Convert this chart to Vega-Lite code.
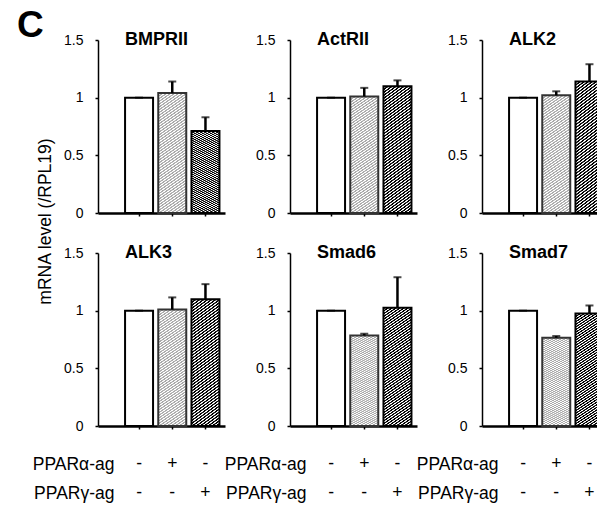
{
"$schema": "https://vega.github.io/schema/vega-lite/v6.json",
"autosize": {"type": "none"},
"padding": {"left": 98, "top": 40, "right": 499, "bottom": 466},
"background": "white",
"title": {"text": "C", "fontSize": 37, "fontWeight": "bold", "anchor": "start", "frame": "group", "dx": -81, "dy": 14, "offset": 0},
"data": {"values": [
 {"gene": "BMPRII", "grp": "c", "mean": 1.0, "upper": 1.0},
 {"gene": "BMPRII", "grp": "a", "mean": 1.04, "upper": 1.14},
 {"gene": "BMPRII", "grp": "g", "mean": 0.71, "upper": 0.83},
 {"gene": "ActRII", "grp": "c", "mean": 1.0, "upper": 1.0},
 {"gene": "ActRII", "grp": "a", "mean": 1.01, "upper": 1.085},
 {"gene": "ActRII", "grp": "g", "mean": 1.1, "upper": 1.15},
 {"gene": "ALK2", "grp": "c", "mean": 1.0, "upper": 1.0},
 {"gene": "ALK2", "grp": "a", "mean": 1.02, "upper": 1.055},
 {"gene": "ALK2", "grp": "g", "mean": 1.14, "upper": 1.29},
 {"gene": "ALK3", "grp": "c", "mean": 1.0, "upper": 1.0},
 {"gene": "ALK3", "grp": "a", "mean": 1.01, "upper": 1.115},
 {"gene": "ALK3", "grp": "g", "mean": 1.1, "upper": 1.23},
 {"gene": "Smad6", "grp": "c", "mean": 1.0, "upper": 1.0},
 {"gene": "Smad6", "grp": "a", "mean": 0.785, "upper": 0.8},
 {"gene": "Smad6", "grp": "g", "mean": 1.025, "upper": 1.29},
 {"gene": "Smad7", "grp": "c", "mean": 1.0, "upper": 1.0},
 {"gene": "Smad7", "grp": "a", "mean": 0.765, "upper": 0.78},
 {"gene": "Smad7", "grp": "g", "mean": 0.975, "upper": 1.045}
]},
"columns": 3,
"spacing": {"row": 40, "column": 65},
"bounds": "flush",
"concat": [
 {"width": 127, "height": 173, "title": "BMPRII",
  "transform": [{"filter": "datum.gene=='BMPRII'"}],
  "encoding": {
   "x": {"field": "grp", "type": "nominal", "scale": {"domain": ["c","a","g"], "paddingInner": 0.157, "paddingOuter": 0.491, "align": 0.83}, "axis": {"labels": false, "title": null}}},
  "layer": [
   {"transform": [{"filter": "datum.grp=='c'"}], "mark": {"type": "bar", "fill": "#fff", "stroke": "#000", "strokeWidth": 2}, "encoding": {"y": {"field": "mean", "type": "quantitative", "scale": {"domain": [0, 1.5], "nice": false}, "axis": {"title": "mRNA level (/RPL19)", "titleX": -53, "titleY": 181, "titleAlign": "center", "titleBaseline": "middle", "titleAngle": -90, "values": [0,0.25,0.5,0.75,1,1.25,1.5], "labelExpr": "(datum.value*2)%1==0 ? toString(datum.value) : ''"}}}},
   {"transform": [{"filter": "datum.grp=='a'"}], "mark": {"type": "bar", "style": "hl"}, "encoding": {"y": {"field": "mean", "type": "quantitative"}}},
   {"transform": [{"filter": "datum.grp=='g'"}], "mark": {"type": "bar", "style": "hd"}, "encoding": {"y": {"field": "mean", "type": "quantitative"}}},
   {"mark": {"type": "rule", "strokeWidth": 2.5, "color": "#000"}, "encoding": {"y": {"field": "mean", "type": "quantitative"}, "y2": {"field": "upper"}}},
   {"mark": {"type": "tick", "thickness": 2, "size": 8, "color": "#000"}, "encoding": {"y": {"field": "upper", "type": "quantitative"}}}
  ]},
 {"width": 127, "height": 173, "title": "ActRII",
  "transform": [{"filter": "datum.gene=='ActRII'"}],
  "encoding": {
   "x": {"field": "grp", "type": "nominal", "scale": {"domain": ["c","a","g"], "paddingInner": 0.157, "paddingOuter": 0.491, "align": 0.83}, "axis": {"labels": false, "title": null}}},
  "layer": [
   {"transform": [{"filter": "datum.grp=='c'"}], "mark": {"type": "bar", "fill": "#fff", "stroke": "#000", "strokeWidth": 2}, "encoding": {"y": {"field": "mean", "type": "quantitative", "scale": {"domain": [0, 1.5], "nice": false}, "axis": {"title": null, "values": [0,0.25,0.5,0.75,1,1.25,1.5], "labelExpr": "(datum.value*2)%1==0 ? toString(datum.value) : ''"}}}},
   {"transform": [{"filter": "datum.grp=='a'"}], "mark": {"type": "bar", "style": "hl"}, "encoding": {"y": {"field": "mean", "type": "quantitative"}}},
   {"transform": [{"filter": "datum.grp=='g'"}], "mark": {"type": "bar", "style": "hd"}, "encoding": {"y": {"field": "mean", "type": "quantitative"}}},
   {"mark": {"type": "rule", "strokeWidth": 2.5, "color": "#000"}, "encoding": {"y": {"field": "mean", "type": "quantitative"}, "y2": {"field": "upper"}}},
   {"mark": {"type": "tick", "thickness": 2, "size": 8, "color": "#000"}, "encoding": {"y": {"field": "upper", "type": "quantitative"}}}
  ]},
 {"width": 127, "height": 173, "title": "ALK2",
  "transform": [{"filter": "datum.gene=='ALK2'"}],
  "encoding": {
   "x": {"field": "grp", "type": "nominal", "scale": {"domain": ["c","a","g"], "paddingInner": 0.157, "paddingOuter": 0.491, "align": 0.83}, "axis": {"labels": false, "title": null}}},
  "layer": [
   {"transform": [{"filter": "datum.grp=='c'"}], "mark": {"type": "bar", "fill": "#fff", "stroke": "#000", "strokeWidth": 2}, "encoding": {"y": {"field": "mean", "type": "quantitative", "scale": {"domain": [0, 1.5], "nice": false}, "axis": {"title": null, "values": [0,0.25,0.5,0.75,1,1.25,1.5], "labelExpr": "(datum.value*2)%1==0 ? toString(datum.value) : ''"}}}},
   {"transform": [{"filter": "datum.grp=='a'"}], "mark": {"type": "bar", "style": "hl"}, "encoding": {"y": {"field": "mean", "type": "quantitative"}}},
   {"transform": [{"filter": "datum.grp=='g'"}], "mark": {"type": "bar", "style": "hd"}, "encoding": {"y": {"field": "mean", "type": "quantitative"}}},
   {"mark": {"type": "rule", "strokeWidth": 2.5, "color": "#000"}, "encoding": {"y": {"field": "mean", "type": "quantitative"}, "y2": {"field": "upper"}}},
   {"mark": {"type": "tick", "thickness": 2, "size": 8, "color": "#000"}, "encoding": {"y": {"field": "upper", "type": "quantitative"}}}
  ]},
 {"width": 127, "height": 173, "title": "ALK3",
  "transform": [{"filter": "datum.gene=='ALK3'"}],
  "encoding": {
   "x": {"field": "grp", "type": "nominal", "scale": {"domain": ["c","a","g"], "paddingInner": 0.157, "paddingOuter": 0.491, "align": 0.83}, "axis": {"labelExpr": "datum.value=='c' ? ['-','-'] : datum.value=='a' ? ['+','-'] : ['-','+']", "title": ["PPARα-ag", "PPARγ-ag"], "titleAlign": "right", "titleAngle": 0, "titleX": 16, "titleY": 29.5, "titleBaseline": "top"}}},
  "layer": [
   {"transform": [{"filter": "datum.grp=='c'"}], "mark": {"type": "bar", "fill": "#fff", "stroke": "#000", "strokeWidth": 2}, "encoding": {"y": {"field": "mean", "type": "quantitative", "scale": {"domain": [0, 1.5], "nice": false}, "axis": {"title": null, "values": [0,0.25,0.5,0.75,1,1.25,1.5], "labelExpr": "(datum.value*2)%1==0 ? toString(datum.value) : ''"}}}},
   {"transform": [{"filter": "datum.grp=='a'"}], "mark": {"type": "bar", "style": "hl"}, "encoding": {"y": {"field": "mean", "type": "quantitative"}}},
   {"transform": [{"filter": "datum.grp=='g'"}], "mark": {"type": "bar", "style": "hd"}, "encoding": {"y": {"field": "mean", "type": "quantitative"}}},
   {"mark": {"type": "rule", "strokeWidth": 2.5, "color": "#000"}, "encoding": {"y": {"field": "mean", "type": "quantitative"}, "y2": {"field": "upper"}}},
   {"mark": {"type": "tick", "thickness": 2, "size": 8, "color": "#000"}, "encoding": {"y": {"field": "upper", "type": "quantitative"}}}
  ]},
 {"width": 127, "height": 173, "title": "Smad6",
  "transform": [{"filter": "datum.gene=='Smad6'"}],
  "encoding": {
   "x": {"field": "grp", "type": "nominal", "scale": {"domain": ["c","a","g"], "paddingInner": 0.157, "paddingOuter": 0.491, "align": 0.83}, "axis": {"labelExpr": "datum.value=='c' ? ['-','-'] : datum.value=='a' ? ['+','-'] : ['-','+']", "title": ["PPARα-ag", "PPARγ-ag"], "titleAlign": "right", "titleAngle": 0, "titleX": 16, "titleY": 29.5, "titleBaseline": "top"}}},
  "layer": [
   {"transform": [{"filter": "datum.grp=='c'"}], "mark": {"type": "bar", "fill": "#fff", "stroke": "#000", "strokeWidth": 2}, "encoding": {"y": {"field": "mean", "type": "quantitative", "scale": {"domain": [0, 1.5], "nice": false}, "axis": {"title": null, "values": [0,0.25,0.5,0.75,1,1.25,1.5], "labelExpr": "(datum.value*2)%1==0 ? toString(datum.value) : ''"}}}},
   {"transform": [{"filter": "datum.grp=='a'"}], "mark": {"type": "bar", "style": "hl"}, "encoding": {"y": {"field": "mean", "type": "quantitative"}}},
   {"transform": [{"filter": "datum.grp=='g'"}], "mark": {"type": "bar", "style": "hd"}, "encoding": {"y": {"field": "mean", "type": "quantitative"}}},
   {"mark": {"type": "rule", "strokeWidth": 2.5, "color": "#000"}, "encoding": {"y": {"field": "mean", "type": "quantitative"}, "y2": {"field": "upper"}}},
   {"mark": {"type": "tick", "thickness": 2, "size": 8, "color": "#000"}, "encoding": {"y": {"field": "upper", "type": "quantitative"}}}
  ]},
 {"width": 127, "height": 173, "title": "Smad7",
  "transform": [{"filter": "datum.gene=='Smad7'"}],
  "encoding": {
   "x": {"field": "grp", "type": "nominal", "scale": {"domain": ["c","a","g"], "paddingInner": 0.157, "paddingOuter": 0.491, "align": 0.83}, "axis": {"labelExpr": "datum.value=='c' ? ['-','-'] : datum.value=='a' ? ['+','-'] : ['-','+']", "title": ["PPARα-ag", "PPARγ-ag"], "titleAlign": "right", "titleAngle": 0, "titleX": 16, "titleY": 29.5, "titleBaseline": "top"}}},
  "layer": [
   {"transform": [{"filter": "datum.grp=='c'"}], "mark": {"type": "bar", "fill": "#fff", "stroke": "#000", "strokeWidth": 2}, "encoding": {"y": {"field": "mean", "type": "quantitative", "scale": {"domain": [0, 1.5], "nice": false}, "axis": {"title": null, "values": [0,0.25,0.5,0.75,1,1.25,1.5], "labelExpr": "(datum.value*2)%1==0 ? toString(datum.value) : ''"}}}},
   {"transform": [{"filter": "datum.grp=='a'"}], "mark": {"type": "bar", "style": "hl"}, "encoding": {"y": {"field": "mean", "type": "quantitative"}}},
   {"transform": [{"filter": "datum.grp=='g'"}], "mark": {"type": "bar", "style": "hd"}, "encoding": {"y": {"field": "mean", "type": "quantitative"}}},
   {"mark": {"type": "rule", "strokeWidth": 2.5, "color": "#000"}, "encoding": {"y": {"field": "mean", "type": "quantitative"}, "y2": {"field": "upper"}}},
   {"mark": {"type": "tick", "thickness": 2, "size": 8, "color": "#000"}, "encoding": {"y": {"field": "upper", "type": "quantitative"}}}
  ]}
],
"config": {
 "font": "Liberation Sans",
 "view": {"stroke": null},
 "title": {"fontSize": 18, "fontWeight": "bold", "anchor": "start", "frame": "group", "color": "#000", "offset": 0, "dx": 27, "dy": 20},
 "axis": {"grid": false, "domainColor": "#000", "tickColor": "#000", "labelColor": "#000", "titleColor": "#000", "titleFontWeight": "normal", "titleFontSize": 17.5},
 "axisY": {"domainWidth": 1.5, "tickWidth": 1.5, "tickSize": 3, "labelPadding": 12, "labelFontSize": 14},
 "axisX": {"domainWidth": 2.5, "tickWidth": 1.5, "tickSize": 3, "labelFontSize": 17.5, "labelAngle": 0, "labelPadding": 25, "labelBaseline": "top", "labelLineHeight": 29, "titleLineHeight": 29},
 "style": {
  "hd": {"stroke": "#000", "strokeWidth": 2, "color": {"gradient": "linear", "x1": 0, "y1": 0, "x2": 0.1844, "y2": 1.1328, "stops": [
{"offset":0,"color":"#000"},{"offset":0.008,"color":"#000"},{"offset":0.011,"color":"#fff"},{"offset":0.017,"color":"#fff"},
{"offset":0.02,"color":"#000"},{"offset":0.028,"color":"#000"},{"offset":0.031,"color":"#fff"},{"offset":0.037,"color":"#fff"},
{"offset":0.04,"color":"#000"},{"offset":0.048,"color":"#000"},{"offset":0.051,"color":"#fff"},{"offset":0.057,"color":"#fff"},
{"offset":0.06,"color":"#000"},{"offset":0.068,"color":"#000"},{"offset":0.071,"color":"#fff"},{"offset":0.077,"color":"#fff"},
{"offset":0.08,"color":"#000"},{"offset":0.088,"color":"#000"},{"offset":0.091,"color":"#fff"},{"offset":0.097,"color":"#fff"},
{"offset":0.1,"color":"#000"},{"offset":0.108,"color":"#000"},{"offset":0.111,"color":"#fff"},{"offset":0.117,"color":"#fff"},
{"offset":0.12,"color":"#000"},{"offset":0.128,"color":"#000"},{"offset":0.131,"color":"#fff"},{"offset":0.137,"color":"#fff"},
{"offset":0.14,"color":"#000"},{"offset":0.148,"color":"#000"},{"offset":0.151,"color":"#fff"},{"offset":0.157,"color":"#fff"},
{"offset":0.16,"color":"#000"},{"offset":0.168,"color":"#000"},{"offset":0.171,"color":"#fff"},{"offset":0.177,"color":"#fff"},
{"offset":0.18,"color":"#000"},{"offset":0.188,"color":"#000"},{"offset":0.191,"color":"#fff"},{"offset":0.197,"color":"#fff"},
{"offset":0.2,"color":"#000"},{"offset":0.208,"color":"#000"},{"offset":0.211,"color":"#fff"},{"offset":0.217,"color":"#fff"},
{"offset":0.22,"color":"#000"},{"offset":0.228,"color":"#000"},{"offset":0.231,"color":"#fff"},{"offset":0.237,"color":"#fff"},
{"offset":0.24,"color":"#000"},{"offset":0.248,"color":"#000"},{"offset":0.251,"color":"#fff"},{"offset":0.257,"color":"#fff"},
{"offset":0.26,"color":"#000"},{"offset":0.268,"color":"#000"},{"offset":0.271,"color":"#fff"},{"offset":0.277,"color":"#fff"},
{"offset":0.28,"color":"#000"},{"offset":0.288,"color":"#000"},{"offset":0.291,"color":"#fff"},{"offset":0.297,"color":"#fff"},
{"offset":0.3,"color":"#000"},{"offset":0.308,"color":"#000"},{"offset":0.311,"color":"#fff"},{"offset":0.317,"color":"#fff"},
{"offset":0.32,"color":"#000"},{"offset":0.328,"color":"#000"},{"offset":0.331,"color":"#fff"},{"offset":0.337,"color":"#fff"},
{"offset":0.34,"color":"#000"},{"offset":0.348,"color":"#000"},{"offset":0.351,"color":"#fff"},{"offset":0.357,"color":"#fff"},
{"offset":0.36,"color":"#000"},{"offset":0.368,"color":"#000"},{"offset":0.371,"color":"#fff"},{"offset":0.377,"color":"#fff"},
{"offset":0.38,"color":"#000"},{"offset":0.388,"color":"#000"},{"offset":0.391,"color":"#fff"},{"offset":0.397,"color":"#fff"},
{"offset":0.4,"color":"#000"},{"offset":0.408,"color":"#000"},{"offset":0.411,"color":"#fff"},{"offset":0.417,"color":"#fff"},
{"offset":0.42,"color":"#000"},{"offset":0.428,"color":"#000"},{"offset":0.431,"color":"#fff"},{"offset":0.437,"color":"#fff"},
{"offset":0.44,"color":"#000"},{"offset":0.448,"color":"#000"},{"offset":0.451,"color":"#fff"},{"offset":0.457,"color":"#fff"},
{"offset":0.46,"color":"#000"},{"offset":0.468,"color":"#000"},{"offset":0.471,"color":"#fff"},{"offset":0.477,"color":"#fff"},
{"offset":0.48,"color":"#000"},{"offset":0.488,"color":"#000"},{"offset":0.491,"color":"#fff"},{"offset":0.497,"color":"#fff"},
{"offset":0.5,"color":"#000"},{"offset":0.508,"color":"#000"},{"offset":0.511,"color":"#fff"},{"offset":0.517,"color":"#fff"},
{"offset":0.52,"color":"#000"},{"offset":0.528,"color":"#000"},{"offset":0.531,"color":"#fff"},{"offset":0.537,"color":"#fff"},
{"offset":0.54,"color":"#000"},{"offset":0.548,"color":"#000"},{"offset":0.551,"color":"#fff"},{"offset":0.557,"color":"#fff"},
{"offset":0.56,"color":"#000"},{"offset":0.568,"color":"#000"},{"offset":0.571,"color":"#fff"},{"offset":0.577,"color":"#fff"},
{"offset":0.58,"color":"#000"},{"offset":0.588,"color":"#000"},{"offset":0.591,"color":"#fff"},{"offset":0.597,"color":"#fff"},
{"offset":0.6,"color":"#000"},{"offset":0.608,"color":"#000"},{"offset":0.611,"color":"#fff"},{"offset":0.617,"color":"#fff"},
{"offset":0.62,"color":"#000"},{"offset":0.628,"color":"#000"},{"offset":0.631,"color":"#fff"},{"offset":0.637,"color":"#fff"},
{"offset":0.64,"color":"#000"},{"offset":0.648,"color":"#000"},{"offset":0.651,"color":"#fff"},{"offset":0.657,"color":"#fff"},
{"offset":0.66,"color":"#000"},{"offset":0.668,"color":"#000"},{"offset":0.671,"color":"#fff"},{"offset":0.677,"color":"#fff"},
{"offset":0.68,"color":"#000"},{"offset":0.688,"color":"#000"},{"offset":0.691,"color":"#fff"},{"offset":0.697,"color":"#fff"},
{"offset":0.7,"color":"#000"},{"offset":0.708,"color":"#000"},{"offset":0.711,"color":"#fff"},{"offset":0.717,"color":"#fff"},
{"offset":0.72,"color":"#000"},{"offset":0.728,"color":"#000"},{"offset":0.731,"color":"#fff"},{"offset":0.737,"color":"#fff"},
{"offset":0.74,"color":"#000"},{"offset":0.748,"color":"#000"},{"offset":0.751,"color":"#fff"},{"offset":0.757,"color":"#fff"},
{"offset":0.76,"color":"#000"},{"offset":0.768,"color":"#000"},{"offset":0.771,"color":"#fff"},{"offset":0.777,"color":"#fff"},
{"offset":0.78,"color":"#000"},{"offset":0.788,"color":"#000"},{"offset":0.791,"color":"#fff"},{"offset":0.797,"color":"#fff"},
{"offset":0.8,"color":"#000"},{"offset":0.808,"color":"#000"},{"offset":0.811,"color":"#fff"},{"offset":0.817,"color":"#fff"},
{"offset":0.82,"color":"#000"},{"offset":0.828,"color":"#000"},{"offset":0.831,"color":"#fff"},{"offset":0.837,"color":"#fff"},
{"offset":0.84,"color":"#000"},{"offset":0.848,"color":"#000"},{"offset":0.851,"color":"#fff"},{"offset":0.857,"color":"#fff"},
{"offset":0.86,"color":"#000"},{"offset":0.868,"color":"#000"},{"offset":0.871,"color":"#fff"},{"offset":0.877,"color":"#fff"},
{"offset":0.88,"color":"#000"},{"offset":0.888,"color":"#000"},{"offset":0.891,"color":"#fff"},{"offset":0.897,"color":"#fff"},
{"offset":0.9,"color":"#000"},{"offset":0.908,"color":"#000"},{"offset":0.911,"color":"#fff"},{"offset":0.917,"color":"#fff"},
{"offset":0.92,"color":"#000"},{"offset":0.928,"color":"#000"},{"offset":0.931,"color":"#fff"},{"offset":0.937,"color":"#fff"},
{"offset":0.94,"color":"#000"},{"offset":0.948,"color":"#000"},{"offset":0.951,"color":"#fff"},{"offset":0.957,"color":"#fff"},
{"offset":0.96,"color":"#000"},{"offset":0.968,"color":"#000"},{"offset":0.971,"color":"#fff"},{"offset":0.977,"color":"#fff"},
{"offset":0.98,"color":"#000"},{"offset":0.988,"color":"#000"},{"offset":0.991,"color":"#fff"},{"offset":0.997,"color":"#fff"},
{"offset":1,"color":"#000"}
  ]}},
  "hl": {"stroke": "#333", "strokeWidth": 2, "color": {"gradient": "linear", "x1": 0, "y1": 0, "x2": 0.1844, "y2": 1.1328, "stops": [
{"offset":0,"color":"#aaa"},{"offset":0.008,"color":"#aaa"},{"offset":0.011,"color":"#fff"},{"offset":0.017,"color":"#fff"},
{"offset":0.02,"color":"#aaa"},{"offset":0.028,"color":"#aaa"},{"offset":0.031,"color":"#fff"},{"offset":0.037,"color":"#fff"},
{"offset":0.04,"color":"#aaa"},{"offset":0.048,"color":"#aaa"},{"offset":0.051,"color":"#fff"},{"offset":0.057,"color":"#fff"},
{"offset":0.06,"color":"#aaa"},{"offset":0.068,"color":"#aaa"},{"offset":0.071,"color":"#fff"},{"offset":0.077,"color":"#fff"},
{"offset":0.08,"color":"#aaa"},{"offset":0.088,"color":"#aaa"},{"offset":0.091,"color":"#fff"},{"offset":0.097,"color":"#fff"},
{"offset":0.1,"color":"#aaa"},{"offset":0.108,"color":"#aaa"},{"offset":0.111,"color":"#fff"},{"offset":0.117,"color":"#fff"},
{"offset":0.12,"color":"#aaa"},{"offset":0.128,"color":"#aaa"},{"offset":0.131,"color":"#fff"},{"offset":0.137,"color":"#fff"},
{"offset":0.14,"color":"#aaa"},{"offset":0.148,"color":"#aaa"},{"offset":0.151,"color":"#fff"},{"offset":0.157,"color":"#fff"},
{"offset":0.16,"color":"#aaa"},{"offset":0.168,"color":"#aaa"},{"offset":0.171,"color":"#fff"},{"offset":0.177,"color":"#fff"},
{"offset":0.18,"color":"#aaa"},{"offset":0.188,"color":"#aaa"},{"offset":0.191,"color":"#fff"},{"offset":0.197,"color":"#fff"},
{"offset":0.2,"color":"#aaa"},{"offset":0.208,"color":"#aaa"},{"offset":0.211,"color":"#fff"},{"offset":0.217,"color":"#fff"},
{"offset":0.22,"color":"#aaa"},{"offset":0.228,"color":"#aaa"},{"offset":0.231,"color":"#fff"},{"offset":0.237,"color":"#fff"},
{"offset":0.24,"color":"#aaa"},{"offset":0.248,"color":"#aaa"},{"offset":0.251,"color":"#fff"},{"offset":0.257,"color":"#fff"},
{"offset":0.26,"color":"#aaa"},{"offset":0.268,"color":"#aaa"},{"offset":0.271,"color":"#fff"},{"offset":0.277,"color":"#fff"},
{"offset":0.28,"color":"#aaa"},{"offset":0.288,"color":"#aaa"},{"offset":0.291,"color":"#fff"},{"offset":0.297,"color":"#fff"},
{"offset":0.3,"color":"#aaa"},{"offset":0.308,"color":"#aaa"},{"offset":0.311,"color":"#fff"},{"offset":0.317,"color":"#fff"},
{"offset":0.32,"color":"#aaa"},{"offset":0.328,"color":"#aaa"},{"offset":0.331,"color":"#fff"},{"offset":0.337,"color":"#fff"},
{"offset":0.34,"color":"#aaa"},{"offset":0.348,"color":"#aaa"},{"offset":0.351,"color":"#fff"},{"offset":0.357,"color":"#fff"},
{"offset":0.36,"color":"#aaa"},{"offset":0.368,"color":"#aaa"},{"offset":0.371,"color":"#fff"},{"offset":0.377,"color":"#fff"},
{"offset":0.38,"color":"#aaa"},{"offset":0.388,"color":"#aaa"},{"offset":0.391,"color":"#fff"},{"offset":0.397,"color":"#fff"},
{"offset":0.4,"color":"#aaa"},{"offset":0.408,"color":"#aaa"},{"offset":0.411,"color":"#fff"},{"offset":0.417,"color":"#fff"},
{"offset":0.42,"color":"#aaa"},{"offset":0.428,"color":"#aaa"},{"offset":0.431,"color":"#fff"},{"offset":0.437,"color":"#fff"},
{"offset":0.44,"color":"#aaa"},{"offset":0.448,"color":"#aaa"},{"offset":0.451,"color":"#fff"},{"offset":0.457,"color":"#fff"},
{"offset":0.46,"color":"#aaa"},{"offset":0.468,"color":"#aaa"},{"offset":0.471,"color":"#fff"},{"offset":0.477,"color":"#fff"},
{"offset":0.48,"color":"#aaa"},{"offset":0.488,"color":"#aaa"},{"offset":0.491,"color":"#fff"},{"offset":0.497,"color":"#fff"},
{"offset":0.5,"color":"#aaa"},{"offset":0.508,"color":"#aaa"},{"offset":0.511,"color":"#fff"},{"offset":0.517,"color":"#fff"},
{"offset":0.52,"color":"#aaa"},{"offset":0.528,"color":"#aaa"},{"offset":0.531,"color":"#fff"},{"offset":0.537,"color":"#fff"},
{"offset":0.54,"color":"#aaa"},{"offset":0.548,"color":"#aaa"},{"offset":0.551,"color":"#fff"},{"offset":0.557,"color":"#fff"},
{"offset":0.56,"color":"#aaa"},{"offset":0.568,"color":"#aaa"},{"offset":0.571,"color":"#fff"},{"offset":0.577,"color":"#fff"},
{"offset":0.58,"color":"#aaa"},{"offset":0.588,"color":"#aaa"},{"offset":0.591,"color":"#fff"},{"offset":0.597,"color":"#fff"},
{"offset":0.6,"color":"#aaa"},{"offset":0.608,"color":"#aaa"},{"offset":0.611,"color":"#fff"},{"offset":0.617,"color":"#fff"},
{"offset":0.62,"color":"#aaa"},{"offset":0.628,"color":"#aaa"},{"offset":0.631,"color":"#fff"},{"offset":0.637,"color":"#fff"},
{"offset":0.64,"color":"#aaa"},{"offset":0.648,"color":"#aaa"},{"offset":0.651,"color":"#fff"},{"offset":0.657,"color":"#fff"},
{"offset":0.66,"color":"#aaa"},{"offset":0.668,"color":"#aaa"},{"offset":0.671,"color":"#fff"},{"offset":0.677,"color":"#fff"},
{"offset":0.68,"color":"#aaa"},{"offset":0.688,"color":"#aaa"},{"offset":0.691,"color":"#fff"},{"offset":0.697,"color":"#fff"},
{"offset":0.7,"color":"#aaa"},{"offset":0.708,"color":"#aaa"},{"offset":0.711,"color":"#fff"},{"offset":0.717,"color":"#fff"},
{"offset":0.72,"color":"#aaa"},{"offset":0.728,"color":"#aaa"},{"offset":0.731,"color":"#fff"},{"offset":0.737,"color":"#fff"},
{"offset":0.74,"color":"#aaa"},{"offset":0.748,"color":"#aaa"},{"offset":0.751,"color":"#fff"},{"offset":0.757,"color":"#fff"},
{"offset":0.76,"color":"#aaa"},{"offset":0.768,"color":"#aaa"},{"offset":0.771,"color":"#fff"},{"offset":0.777,"color":"#fff"},
{"offset":0.78,"color":"#aaa"},{"offset":0.788,"color":"#aaa"},{"offset":0.791,"color":"#fff"},{"offset":0.797,"color":"#fff"},
{"offset":0.8,"color":"#aaa"},{"offset":0.808,"color":"#aaa"},{"offset":0.811,"color":"#fff"},{"offset":0.817,"color":"#fff"},
{"offset":0.82,"color":"#aaa"},{"offset":0.828,"color":"#aaa"},{"offset":0.831,"color":"#fff"},{"offset":0.837,"color":"#fff"},
{"offset":0.84,"color":"#aaa"},{"offset":0.848,"color":"#aaa"},{"offset":0.851,"color":"#fff"},{"offset":0.857,"color":"#fff"},
{"offset":0.86,"color":"#aaa"},{"offset":0.868,"color":"#aaa"},{"offset":0.871,"color":"#fff"},{"offset":0.877,"color":"#fff"},
{"offset":0.88,"color":"#aaa"},{"offset":0.888,"color":"#aaa"},{"offset":0.891,"color":"#fff"},{"offset":0.897,"color":"#fff"},
{"offset":0.9,"color":"#aaa"},{"offset":0.908,"color":"#aaa"},{"offset":0.911,"color":"#fff"},{"offset":0.917,"color":"#fff"},
{"offset":0.92,"color":"#aaa"},{"offset":0.928,"color":"#aaa"},{"offset":0.931,"color":"#fff"},{"offset":0.937,"color":"#fff"},
{"offset":0.94,"color":"#aaa"},{"offset":0.948,"color":"#aaa"},{"offset":0.951,"color":"#fff"},{"offset":0.957,"color":"#fff"},
{"offset":0.96,"color":"#aaa"},{"offset":0.968,"color":"#aaa"},{"offset":0.971,"color":"#fff"},{"offset":0.977,"color":"#fff"},
{"offset":0.98,"color":"#aaa"},{"offset":0.988,"color":"#aaa"},{"offset":0.991,"color":"#fff"},{"offset":0.997,"color":"#fff"},
{"offset":1,"color":"#aaa"}
  ]}}
 }
}
}
